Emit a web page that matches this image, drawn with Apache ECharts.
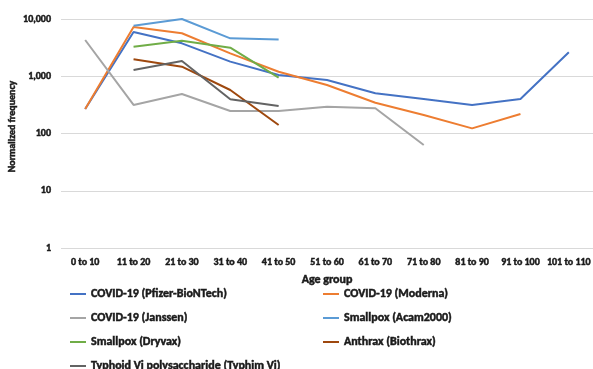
<!DOCTYPE html>
<html>
<head>
<meta charset="utf-8">
<script src="https://cdn.jsdelivr.net/npm/echarts@6/dist/echarts.min.js"></script>
<style>html,body{margin:0;padding:0;background:#fff;}#chart{width:593px;height:369px;}</style>
</head>
<body>
<div id="chart"></div>
<script>
var categories = ['0 to 10','11 to 20','21 to 30','31 to 40','41 to 50','51 to 60','61 to 70','71 to 80','81 to 90','91 to 100','101 to 110'];
var yTicks = [1, 10, 100, 1000, 10000];
var pfizer   = [268, 5930, 3760, 1800, 1050, 860, 505, 400, 315, 400, 2620];
var moderna  = [268, 7250, 5630, 2510, 1200, 703, 345, 210, 123, 219, null];
var janssen  = [4300, 315, 490, 247, 247, 294, 276, 63, null, null, null];
var acam2000 = [null, 7640, 10000, 4600, 4370, null, null, null, null, null, null];
var dryvax   = [null, 3280, 4170, 3160, 945, null, null, null, null, null, null];
var anthrax  = [null, 1980, 1470, 575, 141, null, null, null, null, null, null];
var typhoid  = [null, 1285, 1845, 396, 302, null, null, null, null, null, null];

var FONT = 'Carlito, Roboto, sans-serif';
var TXT = '#1a1a1a';
var BOLD = { fontFamily: FONT, fontWeight: 'bold', color: TXT, textBorderColor: TXT, textBorderWidth: 0.5 };
function st(extra) { return Object.assign({}, BOLD, extra); }
function s(name, data, color) {
  return { name: name, type: 'line', data: data, symbol: 'none', connectNulls: false,
    lineStyle: { width: 2, color: color }, itemStyle: { color: color } };
}
var chart = echarts.init(document.getElementById('chart'));
function legend(left, top, data) {
  return {
    orient: 'vertical', left: left, top: top, padding: 0, icon: 'rect', itemWidth: 16, itemHeight: 2, itemGap: 10,
    data: data,
    textStyle: st({ fontSize: 12, lineHeight: 14 })
  };
}
chart.setOption({
  animation: false,
  backgroundColor: '#fff',
  grid: { left: 61, right: 0, top: 19, bottom: 121, containLabel: false, outerBoundsMode: 'none' },
  legend: [
    legend(70, 287, ['COVID-19 (Pfizer-BioNTech)','COVID-19 (Janssen)','Smallpox (Dryvax)']),
    legend(70, 359, ['Typhoid Vi polysaccharide (Typhim Vi)']),
    legend(323, 287, ['COVID-19 (Moderna)','Smallpox (Acam2000)','Anthrax (Biothrax)'])
  ],
  xAxis: {
    type: 'category', data: categories, boundaryGap: true,
    name: 'Age group', nameLocation: 'middle', nameGap: 26, nameMoveOverlap: false,
    nameTextStyle: st({ fontSize: 12 }),
    axisLine: { show: false }, axisTick: { show: false },
    axisLabel: st({ fontSize: 10, margin: 9, interval: 0, hideOverlap: false })
  },
  yAxis: {
    type: 'log', logBase: 10, min: yTicks[0], max: yTicks[yTicks.length - 1],
    name: 'Normalized frequency', nameLocation: 'middle', nameGap: 44, nameRotate: 90, nameMoveOverlap: false,
    nameTextStyle: st({ fontSize: 10, padding: [0, 0, 0, 14] }),
    axisLine: { show: false }, axisTick: { show: false },
    splitLine: { lineStyle: { color: '#d9d9d9', width: 1 } },
    axisLabel: st({ fontSize: 10, margin: 10,
      formatter: function (v) { return Number(v).toLocaleString('en-US'); } })
  },
  series: [
    s('COVID-19 (Pfizer-BioNTech)', pfizer, '#4472C4'),
    s('COVID-19 (Moderna)', moderna, '#ED7D31'),
    s('COVID-19 (Janssen)', janssen, '#A5A5A5'),
    s('Smallpox (Acam2000)', acam2000, '#5B9BD5'),
    s('Smallpox (Dryvax)', dryvax, '#70AD47'),
    s('Anthrax (Biothrax)', anthrax, '#9E480E'),
    s('Typhoid Vi polysaccharide (Typhim Vi)', typhoid, '#636363')
  ]
});
</script>
</body>
</html>
